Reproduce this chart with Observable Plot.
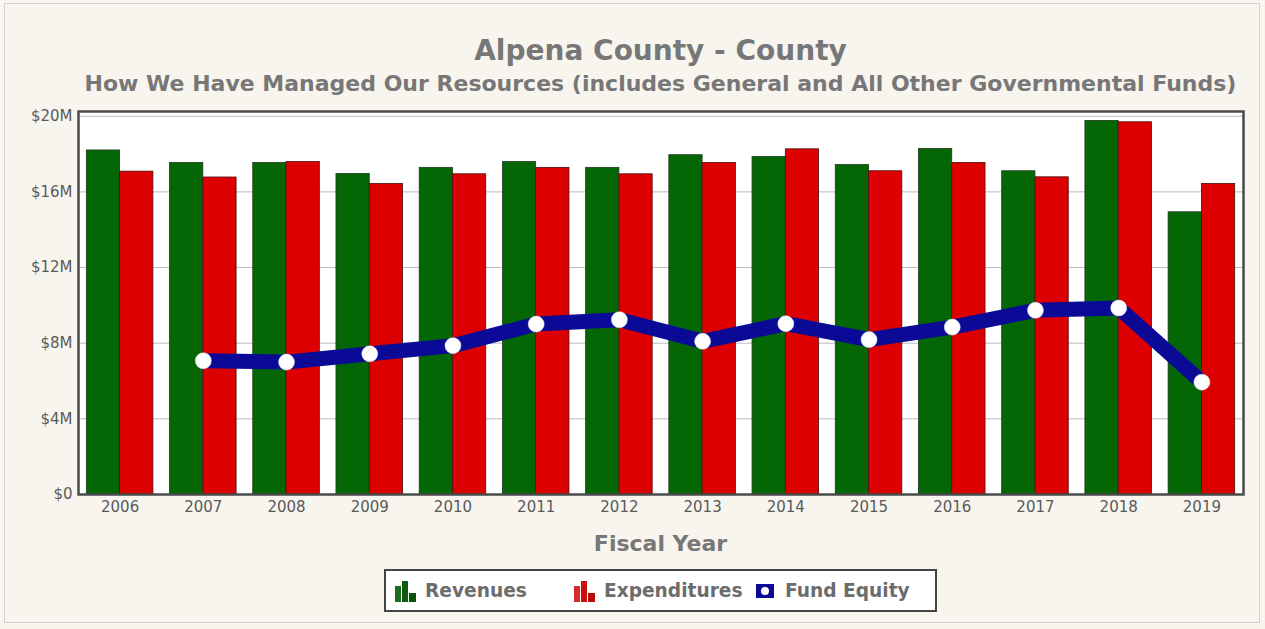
<!DOCTYPE html>
<html>
<head>
<meta charset="utf-8">
<script src="https://cdn.jsdelivr.net/npm/d3@7"></script>
<script src="https://cdn.jsdelivr.net/npm/@observablehq/plot@0.6"></script>
<style>
  html, body { margin: 0; padding: 0; background: #f7f5ee; }
  #wrap { position: relative; width: 1265px; height: 629px; background: #f7f5ee; font-family: "DejaVu Sans", sans-serif; overflow: hidden; }
  #frameborder { position: absolute; left: 4px; top: 3px; width: 1256px; height: 620px; border: 1px solid #d4d2cc; box-sizing: border-box; }
  .title { position: absolute; left: 78px; width: 1165px; text-align: center; font-weight: bold; color: #777; white-space: nowrap; line-height: normal; }
  #t1 { top: 34px; font-size: 28px; }
  #t2 { top: 71px; font-size: 22px; }
  #xlab { top: 531px; font-size: 22px; }
  #chart { position: absolute; left: 0; top: 100px; }
  #legend { position: absolute; left: 384px; top: 569px; width: 553px; height: 43px; box-sizing: border-box; border: 2px solid #444; background: #fff; }
  .item { position: absolute; top: 0; height: 39px; font-size: 18.6px; font-weight: bold; color: #6c6c6c; white-space: nowrap; display: flex; align-items: center; }
  .item svg { margin-right: 8px; }
</style>
</head>
<body>
<div id="wrap">
  <div id="frameborder"></div>
  <div class="title" id="t1">Alpena County - County</div>
  <div class="title" id="t2">How We Have Managed Our Resources (includes General and All Other Governmental Funds)</div>
  <div id="chart"></div>
  <div class="title" id="xlab">Fiscal Year</div>
  <div id="legend">
    <div class="item" style="left:9px"><svg width="22" height="22"><rect x="0" y="6" width="6" height="16" fill="#1d6b1d"/><rect x="7" y="1" width="6" height="21" fill="#0f5a0f"/><rect x="14" y="13" width="7" height="9" fill="#0a4f0a"/></svg>Revenues</div>
    <div class="item" style="left:188px"><svg width="22" height="22"><rect x="0" y="6" width="6" height="16" fill="#d82a2a"/><rect x="7" y="1" width="6" height="21" fill="#c81010"/><rect x="14" y="13" width="7" height="9" fill="#b80808"/></svg>Expenditures</div>
    <div class="item" style="left:369px"><svg width="20" height="16" style="margin-right:10px"><rect x="1" y="1" width="18" height="14" fill="#0a0a96"/><circle cx="10" cy="8" r="4" fill="#fff"/></svg>Fund Equity</div>
  </div>
</div>
<script>
const years = [2006, 2007, 2008, 2009, 2010, 2011, 2012, 2013, 2014, 2015, 2016, 2017, 2018, 2019];
const revenues = [18.19, 17.53, 17.53, 16.95, 17.27, 17.58, 17.27, 17.94, 17.85, 17.42, 18.27, 17.09, 19.75, 14.92];
const expenditures = [17.07, 16.76, 17.58, 16.42, 16.93, 17.27, 16.93, 17.53, 18.25, 17.09, 17.53, 16.77, 19.68, 16.42];
const equityYears = [2007, 2008, 2009, 2010, 2011, 2012, 2013, 2014, 2015, 2016, 2017, 2018, 2019];
const fundEquity = [7.07, 7.00, 7.44, 7.87, 9.01, 9.24, 8.10, 9.03, 8.19, 8.85, 9.74, 9.86, 5.94];
const yTicks = [0, 4, 8, 12, 16, 20];

const bars = years.map((year, i) => ({ year, rev: revenues[i] * 1e6, exp: expenditures[i] * 1e6 }));
const equity = equityYears.map((year, i) => ({ year, value: fundEquity[i] * 1e6 }));

const chart = Plot.plot({
  width: 1265,
  height: 424,
  marginLeft: 78,
  marginRight: 22,
  marginTop: 11,
  marginBottom: 30,
  style: { fontFamily: "DejaVu Sans, sans-serif", fontSize: "15px", color: "#5a5a5a", background: "transparent" },
  x: { domain: [years[0] - 0.5, years[years.length - 1] + 0.5], ticks: years, tickFormat: d => String(d), tickSize: 0, tickPadding: 7, label: null },
  y: { domain: [0, 20.25e6], ticks: yTicks.map(d => d * 1e6), tickFormat: d => d === 0 ? "$0" : `$${d / 1e6}M`, tickSize: 0, tickPadding: 6, label: null },
  marks: [
    Plot.frame({ fill: "#fff" }),
    Plot.gridY(yTicks.map(d => d * 1e6), { stroke: "#bbb", strokeOpacity: 1 }),
    Plot.rectY(bars, { x1: d => d.year - 0.4, x2: d => d.year, y: "rev", fill: "#056605", stroke: "#1f3a1f", strokeWidth: 0.8 }),
    Plot.rectY(bars, { x1: d => d.year, x2: d => d.year + 0.4, y: "exp", fill: "#dd0000", stroke: "#4a1010", strokeWidth: 0.8 }),
    Plot.line(equity, { x: "year", y: "value", stroke: "#0a0a96", strokeWidth: 15, strokeLinejoin: "round", strokeLinecap: "round" }),
    Plot.dot(equity, { x: "year", y: "value", r: 8, fill: "#fff", stroke: "#e8e8f0", strokeWidth: 0.5 }),
    Plot.frame({ stroke: "#4a4a4a", strokeWidth: 2.5 })
  ]
});
document.getElementById("chart").appendChild(chart);
</script>
</body>
</html>
